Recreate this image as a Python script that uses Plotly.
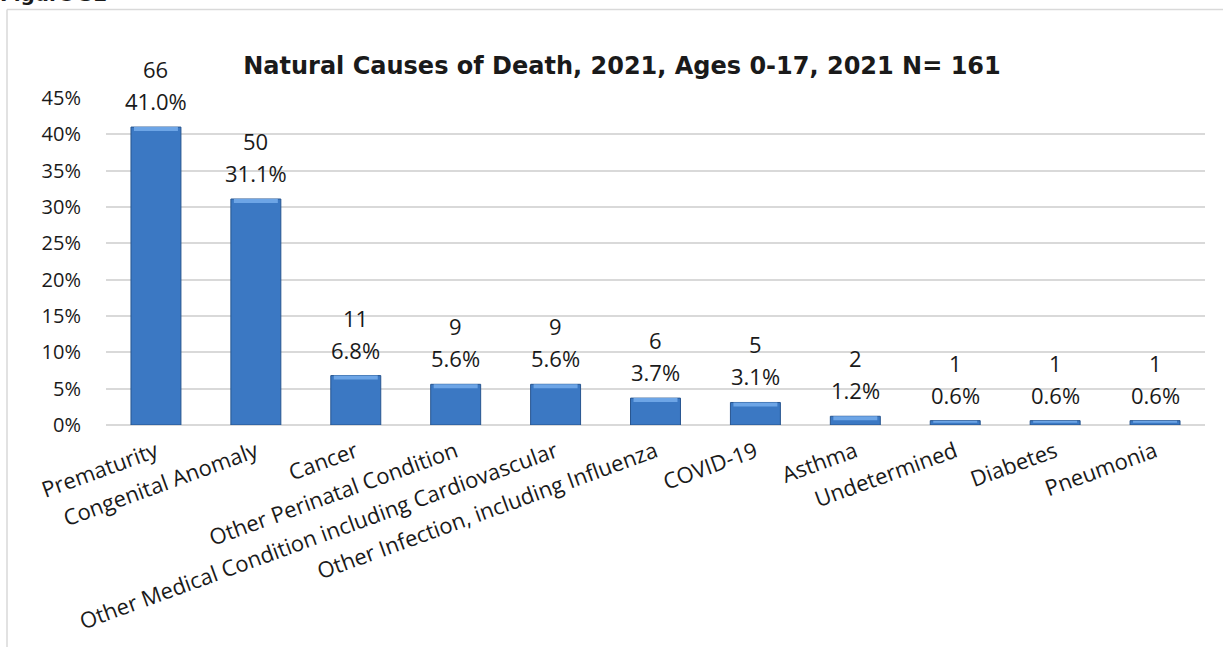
import plotly.graph_objects as go

# Natural causes of death, ages 0-17, 2021 (N = 161)
causes = [
    "Prematurity",
    "Congenital Anomaly",
    "Cancer",
    "Other Perinatal Condition",
    "Other Medical Condition including Cardiovascular",
    "Other Infection, including Influenza",
    "COVID-19",
    "Asthma",
    "Undetermined",
    "Diabetes",
    "Pneumonia",
]
counts = [66, 50, 11, 9, 9, 6, 5, 2, 1, 1, 1]
percents = [41.0, 31.1, 6.8, 5.6, 5.6, 3.7, 3.1, 1.2, 0.6, 0.6, 0.6]
y_ticks = [0, 5, 10, 15, 20, 25, 30, 35, 40, 45]

W, H = 1223, 647
ML, MR, MT, MB = 106, 18, 98, 220
PW, PH = W - ML - MR, H - MT - MB

FONT = "Open Sans"
BOLD_FONT = "DejaVu Sans"
TEXT = "#1a1a1a"

fig = go.Figure()

# main bar body
fig.add_trace(go.Bar(
    x=causes, y=percents,
    marker=dict(color="#3b78c3", line=dict(color="#27558f", width=1)),
    width=0.5, hoverinfo="skip", showlegend=False,
))

# lighter bevelled cap on top of each bar
cap = 0.55
fig.add_trace(go.Bar(
    x=causes,
    y=[min(cap, p * 0.5) for p in percents],
    base=[p - min(cap, p * 0.5) for p in percents],
    marker=dict(color="#6da5e6", line=dict(width=0)),
    width=0.44, hoverinfo="skip", showlegend=False,
))

# value labels: count on top, percentage below it
annotations = []
for c, n, p in zip(causes, counts, percents):
    annotations.append(dict(
        x=c, y=p, xref="x", yref="y", text=f"{p:.1f}%", showarrow=False,
        yanchor="middle", yshift=26, font=dict(family=FONT, size=22, color=TEXT),
    ))
    annotations.append(dict(
        x=c, y=p, xref="x", yref="y", text=str(n), showarrow=False,
        yanchor="middle", yshift=58, font=dict(family=FONT, size=22, color=TEXT),
    ))

annotations.append(dict(
    x=-(ML + 2) / PW, y=(H - MB - 7) / PH, xref="paper", yref="paper",
    xanchor="left", yanchor="bottom", text="<b>Figure 32</b>", showarrow=False,
    font=dict(family=BOLD_FONT, size=20, color=TEXT),
))

# outer chart frame (top and left edges)
frame_color = "#d9d9d9"
x_left = (7 - ML) / PW
y_top = (H - MB - 9) / PH
shapes = [
    dict(type="line", xref="paper", yref="paper", x0=x_left, x1=(W - ML + 5) / PW,
         y0=y_top, y1=y_top, line=dict(color=frame_color, width=1.5)),
    dict(type="line", xref="paper", yref="paper", x0=x_left, x1=x_left,
         y0=y_top, y1=-(MB + 5) / PH, line=dict(color=frame_color, width=1.5)),
]

fig.update_layout(
    width=W, height=H,
    margin=dict(l=ML, r=MR, t=MT, b=MB),
    paper_bgcolor="white", plot_bgcolor="white",
    barmode="overlay",
    title=dict(
        text="<b>Natural Causes of Death, 2021, Ages 0-17, 2021 N= 161</b>",
        x=622 / W, xanchor="center", xref="container",
        y=1 - 66 / H, yanchor="middle", yref="container",
        font=dict(family=BOLD_FONT, size=24, color=TEXT),
    ),
    xaxis=dict(
        type="category", tickangle=-20, showgrid=False, showline=False,
        ticks="", ticklabelstandoff=9,
        tickfont=dict(family=FONT, size=22, color=TEXT),
        range=[-0.5, len(causes) - 0.5],
    ),
    yaxis=dict(
        range=[0, 45], tickvals=y_ticks, ticktext=[f"{v}%" for v in y_ticks],
        showgrid=True, gridcolor="#d9d9d9", gridwidth=1.5,
        zeroline=True, zerolinecolor="#d9d9d9", zerolinewidth=1.5,
        showline=False, ticks="", ticklabelstandoff=24,
        tickfont=dict(family=FONT, size=20, color=TEXT),
    ),
    annotations=annotations,
    shapes=shapes,
)

fig.write_html("out.html")
